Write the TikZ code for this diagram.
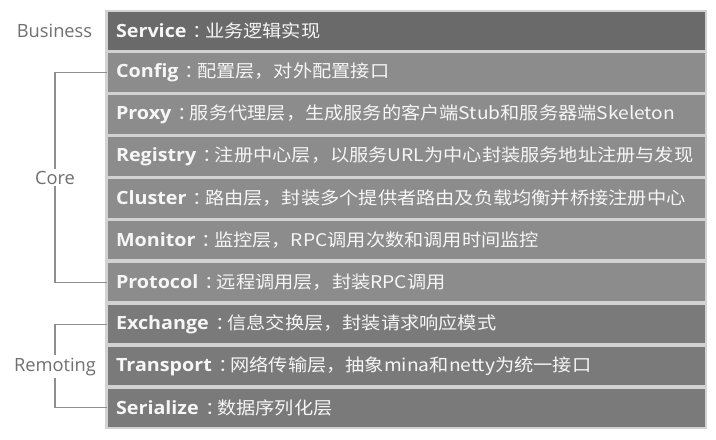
\documentclass[tikz,border=0pt]{standalone}
\usepackage{fontspec}
\setmainfont{Open Sans}
\newfontfamily\kwfont{Open Sans}[FakeStretch=1.08]
\newfontfamily\cjk{Noto Sans CJK SC}[FakeStretch=1.1]
\definecolor{bizfill}{HTML}{6A6A6A}
\definecolor{corefill}{HTML}{8C8C8C}
\definecolor{remfill}{HTML}{7A7A7A}
\definecolor{gapgray}{HTML}{D2D2D2}
\definecolor{linegray}{HTML}{8E8E8E}
\definecolor{labelgray}{HTML}{707070}
\definecolor{celltext}{HTML}{F6F6F6}
\newcommand{\kwcolon}{\hspace{0.36em}\makebox[0.7em][l]{：}}
\tikzset{
  layerrow/.style={anchor=west, minimum height=29.6pt, text width=435pt, inner xsep=6.75pt, inner ysep=0pt,
    align=left, text=celltext, draw=gapgray, line width=0.8pt, font=\fontsize{13.1pt}{14pt}\selectfont},
  grouplabel/.style={fill=white, text=labelgray, inner sep=1.5pt, font=\fontsize{13.7pt}{15pt}\selectfont},
  bracket/.style={draw=linegray, line width=0.8pt}
}
\begin{document}
\begin{tikzpicture}[x=0.75pt,y=-0.75pt]
\useasboundingbox (0,0) rectangle (716,439);
\fill[white] (0,0) rectangle (716,439);
\fill[gapgray] (105,9.5) rectangle (706.5,429);
\foreach \name/\col/\kw/\desc [count=\i from 0] in {
  service/bizfill/Service/业务逻辑实现,
  config/corefill/Config/配置层，对外配置接口,
  proxy/corefill/Proxy/服务代理层，生成服务的客户端Stub和服务器端Skeleton,
  registry/corefill/Registry/注册中心层，以服务URL为中心封装服务地址注册与发现,
  cluster/corefill/Cluster/路由层，封装多个提供者路由及负载均衡并桥接注册中心,
  monitor/corefill/Monitor/监控层，RPC调用次数和调用时间监控,
  protocol/corefill/Protocol/远程调用层，封装RPC调用,
  exchange/remfill/Exchange/信息交换层，封装请求响应模式,
  transport/remfill/Transport/网络传输层，抽象mina和netty为统一接口,
  serialize/remfill/Serialize/数据序列化层}
{
  \node[layerrow, fill=\col] (\name) at (106.5, 30.75+41.9*\i) {{\kwfont\fontsize{13.7pt}{14pt}\selectfont\bfseries \kw}{\cjk\kwcolon\desc}};
}
\node[grouplabel] (bizlab) at (54.5,30.5) {Business};
\node[grouplabel] (corelab) at (55,177.5) {Core};
\node[grouplabel] (remlab) at (55,366.5) {Remoting};
\draw[bracket] (config.west) -| (corelab.north);
\draw[bracket] (protocol.west) -| (corelab.south);
\draw[bracket] (exchange.west) -| (remlab.north);
\draw[bracket] (serialize.west) -| (remlab.south);
\end{tikzpicture}
\end{document}
